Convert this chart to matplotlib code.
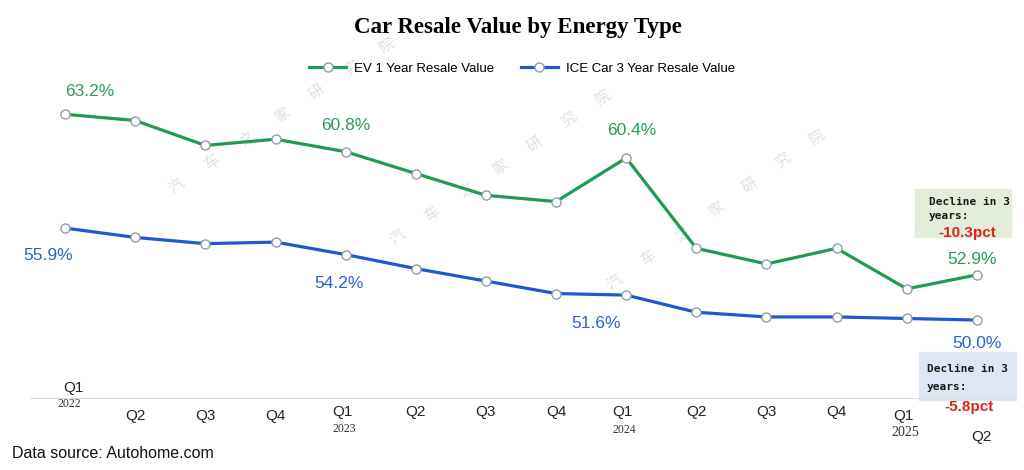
import matplotlib.pyplot as plt
from matplotlib.transforms import blended_transform_factory
from matplotlib.patches import Rectangle

# Data
quarters = ['Q1', 'Q2', 'Q3', 'Q4', 'Q1', 'Q2', 'Q3', 'Q4',
            'Q1', 'Q2', 'Q3', 'Q4', 'Q1', 'Q2']
years = {0: '2022', 4: '2023', 8: '2024', 12: '2025'}
ev_values = [63.2, 62.8, 61.2, 61.6, 60.8, 59.4, 58.0, 57.6,
             60.4, 54.6, 53.6, 54.6, 52.0, 52.9]
ice_values = [55.9, 55.3, 54.9, 55.0, 54.2, 53.3, 52.5, 51.7,
              51.6, 50.5, 50.2, 50.2, 50.1, 50.0]
labeled = [0, 4, 8, 13]
ev_decline = '-10.3pct'
ice_decline = '-5.8pct'
watermark = ['汽', '车', '之', '家', '研', '究', '院']

green = '#1f9b52'
blue = '#1f58d2'
green_txt = '#2a9a5c'
blue_txt = '#2b62cc'
red = '#d8261d'

plt.rcParams['font.family'] = ['Liberation Sans', 'DejaVu Sans']

fig = plt.figure(figsize=(10.24, 4.7), dpi=100)
ax = fig.add_axes([30 / 1024, 72 / 470, 982 / 1024, 304 / 470])
ax.patch.set_visible(False)
x = list(range(len(quarters)))

mk = dict(marker='o', markersize=6.5, markerfacecolor='white',
          markeredgecolor='#8e9fab', markeredgewidth=1.0)
ax.plot(x, ev_values, color=green, lw=2.3, label='EV 1 Year Resale Value', **mk)
ax.plot(x, ice_values, color=blue, lw=2.3, label='ICE Car 3 Year Resale Value', **mk)

ax.set_xlim(-0.5, 13.5)
ax.set_ylim(45, 64.5)
for s in ['top', 'right', 'left']:
    ax.spines[s].set_visible(False)
ax.spines['bottom'].set_color('#dcdcdc')
ax.set_xticks([])
ax.set_yticks([])

# value labels
ev_off = [(25, 23), (0, 26), (6, 27), (-5, 15)]
ice_off = [(-17, -27), (-7, -29), (-30, -28), (0, -23)]
for i, o in zip(labeled, ev_off):
    ax.annotate(f'{ev_values[i]:.1f}%', (x[i], ev_values[i]), xytext=o,
                textcoords='offset pixels', ha='center', va='center',
                fontsize=12.5, color=green_txt)
for i, o in zip(labeled, ice_off):
    ax.annotate(f'{ice_values[i]:.1f}%', (x[i], ice_values[i]), xytext=o,
                textcoords='offset pixels', ha='center', va='center',
                fontsize=12.5, color=blue_txt)

# x labels (staggered like the original)
tr = blended_transform_factory(ax.transData, fig.transFigure)
q_y = [388, 416, 416, 416, 412, 412, 412, 412, 412, 412, 412, 412, 416, 437]
q_dx = [0.12, 0, 0, 0, -0.05, 0, 0, 0, -0.05, 0, 0, 0, -0.05, 0.07]
year_y = {0: 404, 4: 429, 8: 430, 12: 433}
for i, q in enumerate(quarters):
    ax.text(x[i] + q_dx[i], 1 - q_y[i] / 470, q, transform=tr, ha='center',
            va='center', fontsize=11, color='#222222')
    if i in years:
        ax.text(x[i] + q_dx[i] * 0.5, 1 - year_y[i] / 470, years[i], transform=tr,
                ha='center', va='center', fontsize=8.5 if i < 12 else 10,
                family='Liberation Serif', color='#333333')

# watermark, one character at a time along three diagonals
for (x0, y0), (x1, y1) in [((177, 186), (387, 45)),
                           ((398, 237), (603, 97)),
                           ((615, 282), (817, 137))]:
    n = len(watermark)
    for k, ch in enumerate(watermark):
        px = x0 + (x1 - x0) * k / (n - 1)
        py = y0 + (y1 - y0) * k / (n - 1)
        fig.text(px / 1024, 1 - py / 470, ch, rotation=35, ha='center',
                 va='center', fontsize=11, color='#c8c8c8', alpha=0.55,
                 family=['Noto Sans CJK SC', 'DejaVu Sans'], zorder=-1)

# decline boxes
fig.patches.append(Rectangle((915 / 1024, 1 - 237 / 470), 96 / 1024, 48 / 470,
                             transform=fig.transFigure, color='#e2eed9', zorder=-1))
fig.text(929 / 1024, 1 - 209 / 470, 'Decline in 3\nyears:', fontsize=8,
         family='DejaVu Sans Mono', weight='bold', va='center', ha='left',
         linespacing=1.5, color='#1a1a1a')
fig.text(967 / 1024, 1 - 233 / 470, ev_decline, fontsize=11, weight='bold',
         color=red, ha='center', va='center')

fig.patches.append(Rectangle((919 / 1024, 1 - 400 / 470), 97 / 1024, 48 / 470,
                             transform=fig.transFigure, color='#dce7f3', zorder=-1))
fig.text(927 / 1024, 1 - 378 / 470, 'Decline in 3\nyears:', fontsize=8,
         family='DejaVu Sans Mono', weight='bold', va='center', ha='left',
         linespacing=1.9, color='#1a1a1a')
fig.text(969 / 1024, 1 - 407 / 470, ice_decline, fontsize=11, weight='bold',
         color=red, ha='center', va='center')

# title, legend, source
fig.text(518 / 1024, 1 - 28 / 470, 'Car Resale Value by Energy Type',
         family='Liberation Serif', weight='bold', fontsize=16.5,
         ha='center', va='center')
fig.legend(loc='center', bbox_to_anchor=(522 / 1024, 1 - 69 / 470), ncol=2,
           frameon=False, fontsize=9.5, handlelength=2.8, columnspacing=2.0,
           handletextpad=0.6)
fig.text(12 / 1024, 1 - 454 / 470, 'Data source: Autohome.com', fontsize=11.5,
         ha='left', va='center', color='#111111')

fig.savefig('out.png', dpi=100)
